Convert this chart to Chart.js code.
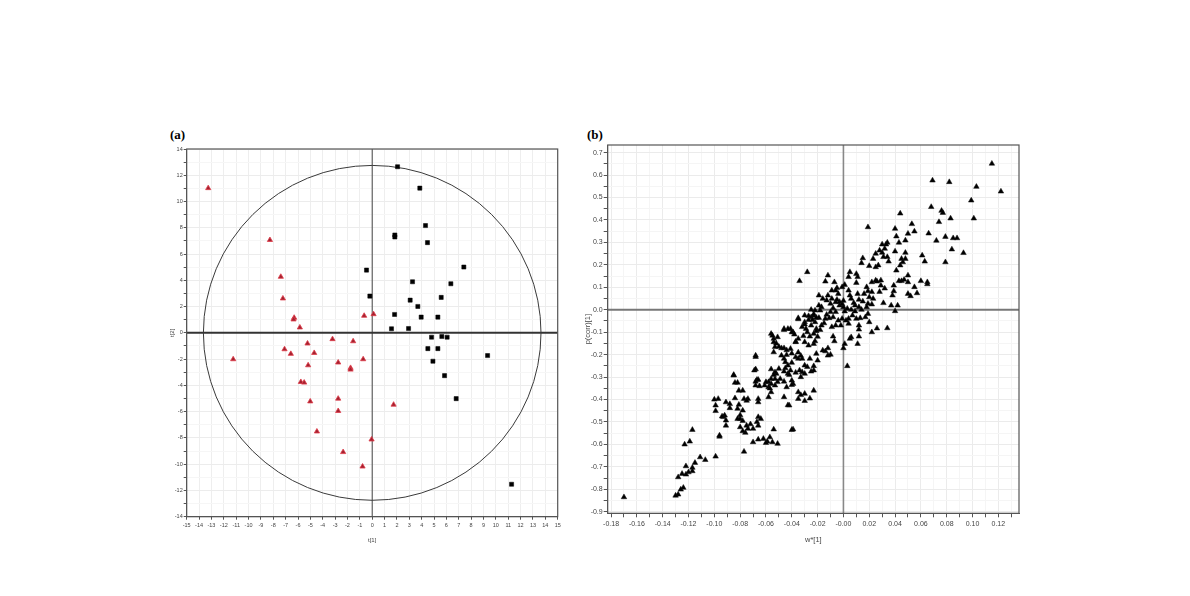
<!DOCTYPE html>
<html><head><meta charset="utf-8">
<script src="https://cdn.jsdelivr.net/npm/chart.js@4.4.0/dist/chart.umd.min.js"></script>
<style>
body{margin:0;background:#fff;width:1190px;height:596px;position:relative;overflow:hidden;}
.box{position:absolute;}
.lab{position:absolute;font-family:"Liberation Serif","Times New Roman",serif;font-weight:bold;font-size:13px;color:#000;line-height:13px;}
</style></head><body>
<div class="lab" style="left:170px;top:128px">(a)</div>
<div class="lab" style="left:587px;top:128px">(b)</div>
<div class="box" style="left:160px;top:125px;"><canvas id="ca" width="410" height="425"></canvas></div>
<div class="box" style="left:580px;top:125px;"><canvas id="cb" width="450" height="430"></canvas></div>
<script>
// ---------- (a) score plot ----------
const redT1 = [-13.26,-8.27,-7.39,-7.22,-6.31,-6.36,-5.85,-0.65,0.11,-3.21,-1.54,-5.23,-7.09,-6.58,-4.69,-11.24,-0.73,-2.75,-5.18,-1.75,-1.75,-5.77,-5.50,-5.01,-2.75,-2.75,1.73,-4.47,-0.05,-2.35,-0.78];
const redT2 = [11.02,7.07,4.27,2.62,1.15,1.02,0.41,1.30,1.42,-0.48,-0.64,-0.81,-1.25,-1.60,-1.53,-2.01,-2.01,-2.26,-2.47,-2.67,-2.80,-3.74,-3.79,-5.22,-5.01,-5.95,-5.47,-7.51,-8.12,-9.08,-10.18];
const blackT1 = [2.05,3.85,4.31,1.83,1.83,4.47,-0.46,7.41,3.26,6.36,-0.19,3.07,5.58,3.69,1.81,3.96,5.31,1.56,2.94,4.80,5.63,6.06,4.50,5.31,4.91,9.33,5.85,6.79,11.27];
const blackT2 = [12.65,11.02,8.17,7.30,7.45,6.87,4.78,5.01,3.89,3.74,2.80,2.49,2.70,2.01,1.40,1.20,1.20,0.31,0.33,-0.33,-0.28,-0.33,-1.20,-1.20,-2.16,-1.73,-3.26,-5.01,-11.53];
const xTicksA = [-15,-14,-13,-12,-11,-10,-9,-8,-7,-6,-5,-4,-3,-2,-1,0,1,2,3,4,5,6,7,8,9,10,11,12,13,14,15];
const yTicksA = [-14,-13,-12,-11,-10,-9,-8,-7,-6,-5,-4,-3,-2,-1,0,1,2,3,4,5,6,7,8,9,10,11,12,13,14];
const yLabelsA = [-14,-12,-10,-8,-6,-4,-2,0,2,4,6,8,10,12,14];
const ellipseT1 = 13.65, ellipseT2 = 12.75;

// ---------- (b) loading plot ----------
const loadW = [0.115,0.069,0.082,0.103,0.099,0.122,0.101,0.068,0.076,0.077,0.074,0.083,0.044,0.019,0.040,0.053,0.055,0.050,0.048,0.043,
0.041,0.066,0.072,0.079,0.085,0.088,0.084,0.093,0.079,0.061,0.063,0.048,0.048,0.045,0.040,0.034,0.032,0.030,0.028,0.031,
0.034,0.027,0.025,0.015,0.014,0.041,0.043,0.045,0.047,0.050,0.050,0.060,0.065,0.065,0.055,0.050,0.052,0.057,0.039,0.038,
0.037,0.042,0.040,0.031,0.034,0.026,0.022,0.025,0.026,0.029,0.022,0.018,0.019,0.016,0.022,0.020,0.023,0.022,0.019,0.018,
0.015,0.011,0.010,0.011,0.005,0.004,0.001,-0.001,-0.005,-0.004,0.004,0.005,0.006,0.009,0.012,0.014,0.019,0.020,0.017,0.013,
0.012,0.012,0.010,0.007,0.009,0.006,0.004,0.004,0.002,-0.001,-0.004,-0.002,0.001,0.000,-0.003,-0.006,-0.009,-0.012,-0.013,-0.010,
-0.008,-0.012,-0.014,-0.006,0.012,0.006,0.005,0.011,0.001,0.000,0.003,-0.008,-0.012,-0.012,-0.016,-0.006,-0.009,-0.011,-0.013,-0.014,
-0.017,-0.018,-0.019,-0.022,-0.021,-0.023,-0.023,-0.021,-0.020,-0.023,-0.025,-0.023,-0.025,-0.023,-0.025,-0.027,-0.030,-0.028,-0.026,-0.031,
-0.035,-0.034,-0.028,-0.037,-0.039,-0.041,-0.043,-0.041,-0.044,-0.046,-0.048,-0.045,-0.043,-0.040,-0.037,-0.035,-0.032,-0.032,-0.030,-0.034,
-0.041,-0.043,-0.040,-0.039,-0.044,-0.035,-0.030,-0.035,-0.030,-0.042,-0.046,-0.039,-0.046,-0.050,-0.052,-0.049,-0.051,-0.053,-0.056,-0.056,
-0.058,-0.060,-0.058,-0.056,-0.058,-0.053,-0.053,-0.054,-0.056,-0.054,-0.053,-0.054,-0.051,-0.046,-0.048,-0.046,-0.068,-0.069,-0.067,-0.068,
-0.066,-0.061,-0.066,-0.066,-0.066,-0.064,-0.066,-0.070,-0.066,-0.059,-0.057,-0.054,-0.051,-0.060,-0.077,-0.075,-0.074,-0.076,-0.078,-0.080,
-0.082,-0.080,-0.078,-0.082,-0.081,-0.077,-0.074,-0.081,-0.084,-0.085,-0.084,-0.088,-0.091,-0.092,-0.091,-0.091,-0.093,-0.096,-0.097,-0.099,
-0.099,-0.099,-0.107,-0.111,-0.115,-0.117,-0.117,-0.120,-0.117,-0.119,-0.123,-0.122,-0.122,-0.125,-0.128,-0.124,-0.126,-0.128,-0.130,-0.170,
0.030,0.033,0.025,0.023,0.046,0.044,0.029,0.039,-0.019,-0.016,-0.017,-0.019,-0.022,-0.009,-0.007,-0.006,-0.010,-0.008,-0.025,-0.030,
-0.032,-0.035,-0.030,-0.027,-0.026,-0.030,-0.003,-0.001,-0.005,0.000,-0.023,-0.021,-0.024,-0.035,-0.027,-0.030,-0.029,-0.021,-0.020,-0.022,
-0.046,-0.040,-0.038,-0.055,-0.052,-0.050,-0.037,-0.007,-0.014,-0.010,-0.044,-0.040,-0.035,-0.033,-0.045,-0.042,-0.056,-0.054,-0.057,-0.037,
-0.033,-0.028,-0.023,-0.068,-0.065,-0.046,-0.040,-0.033,-0.026,-0.043,-0.068,-0.068,-0.085,-0.082,-0.078,-0.100,-0.088,-0.075,-0.094,-0.080,
-0.078,-0.072,-0.067,-0.070,-0.096,-0.062,-0.055,-0.040,0.035,0.020,0.010,0.028,0.032,0.012,0.008,0.003,-0.015,-0.018];
const loadP = [0.651,0.576,0.569,0.548,0.487,0.527,0.407,0.458,0.441,0.432,0.391,0.407,0.429,0.368,0.361,0.382,0.349,0.339,0.309,0.299,
0.327,0.340,0.308,0.325,0.319,0.319,0.269,0.253,0.212,0.242,0.215,0.254,0.227,0.227,0.260,0.299,0.272,0.254,0.264,0.235,
0.235,0.198,0.190,0.230,0.208,0.175,0.128,0.128,0.134,0.153,0.123,0.128,0.114,0.123,0.101,0.071,0.061,0.074,0.083,0.064,
0.019,0.019,-0.006,0.030,-0.082,-0.083,-0.100,0.131,0.126,0.108,0.123,0.101,0.083,0.071,0.079,0.056,0.049,0.024,0.027,0.012,
0.037,0.071,0.160,0.146,0.168,0.146,0.111,0.101,0.097,0.071,0.086,0.064,0.049,0.019,0.012,0.000,-0.018,-0.055,-0.033,-0.037,
-0.070,-0.088,-0.040,-0.025,-0.007,0.000,-0.040,-0.062,-0.048,-0.040,-0.048,-0.070,-0.007,0.012,0.019,0.034,0.049,0.064,0.042,0.027,
0.007,0.153,0.126,0.086,-0.119,-0.122,-0.129,-0.152,-0.152,-0.171,-0.251,-0.119,-0.171,-0.204,-0.181,-0.070,-0.077,-0.037,-0.022,-0.040,
-0.070,-0.003,-0.036,-0.055,-0.085,-0.107,-0.152,-0.196,-0.226,-0.251,-0.275,-0.360,-0.033,-0.025,0.000,-0.045,-0.055,-0.100,-0.119,-0.117,
-0.037,0.128,0.168,-0.144,-0.100,-0.085,-0.085,-0.174,-0.201,-0.171,-0.204,-0.233,-0.248,-0.236,-0.211,-0.218,-0.218,-0.278,-0.285,-0.270,
-0.270,-0.285,-0.315,-0.330,-0.345,-0.367,-0.374,-0.397,-0.406,-0.426,-0.389,-0.533,-0.275,-0.263,-0.285,-0.308,-0.322,-0.337,-0.308,-0.330,
-0.322,-0.322,-0.345,-0.367,-0.389,-0.308,-0.278,-0.129,-0.107,-0.144,-0.166,-0.189,-0.122,-0.085,-0.171,-0.218,-0.204,-0.270,-0.312,-0.337,
-0.312,-0.337,-0.397,-0.412,-0.478,-0.486,-0.516,-0.590,-0.578,-0.587,-0.568,-0.533,-0.597,-0.593,-0.632,-0.516,-0.530,-0.548,-0.541,-0.523,
-0.486,-0.486,-0.449,-0.441,-0.423,-0.397,-0.397,-0.360,-0.325,-0.293,-0.394,-0.438,-0.412,-0.471,-0.493,-0.516,-0.478,-0.565,-0.397,-0.426,
-0.451,-0.654,-0.669,-0.657,-0.682,-0.704,-0.719,-0.724,-0.535,-0.587,-0.600,-0.697,-0.734,-0.731,-0.746,-0.793,-0.801,-0.823,-0.828,-0.835,
0.291,0.291,0.250,0.227,0.212,0.198,0.131,0.108,0.064,0.049,0.012,0.019,-0.003,0.086,0.123,-0.010,-0.010,-0.033,-0.070,-0.025,
-0.077,-0.129,-0.144,-0.159,-0.218,-0.248,0.035,0.025,0.045,0.040,-0.020,-0.035,-0.045,-0.042,-0.028,-0.065,-0.085,-0.095,-0.120,-0.140,
-0.090,-0.100,-0.110,-0.115,-0.150,-0.165,-0.142,-0.140,-0.185,-0.200,-0.180,-0.195,-0.190,-0.205,-0.260,-0.290,-0.265,-0.290,-0.350,-0.280,
-0.300,-0.255,-0.270,-0.320,-0.340,-0.320,-0.335,-0.380,-0.395,-0.425,-0.210,-0.265,-0.290,-0.325,-0.360,-0.400,-0.420,-0.405,-0.475,-0.470,
-0.495,-0.510,-0.500,-0.530,-0.560,-0.575,-0.590,-0.535,0.215,0.195,0.120,0.080,0.095,0.045,0.030,0.005,-0.060,-0.090];
const xTicksB = [-0.18,-0.17,-0.16,-0.15,-0.14,-0.13,-0.12,-0.11,-0.10,-0.09,-0.08,-0.07,-0.06,-0.05,-0.04,-0.03,-0.02,-0.01,0.00,0.01,0.02,0.03,0.04,0.05,0.06,0.07,0.08,0.09,0.10,0.11,0.12,0.13];
const xLabelsB = ['-0.18','','-0.16','','-0.14','','-0.12','','-0.10','','-0.08','','-0.06','','-0.04','','-0.02','','-0.00','','0.02','','0.04','','0.06','','0.08','','0.10','','0.12',''];
const yTicksB = [-0.9,-0.85,-0.8,-0.75,-0.7,-0.65,-0.6,-0.55,-0.5,-0.45,-0.4,-0.35,-0.3,-0.25,-0.2,-0.15,-0.1,-0.05,0,0.05,0.1,0.15,0.2,0.25,0.3,0.35,0.4,0.45,0.5,0.55,0.6,0.65,0.7];
const yLabelsB = ['-0.9','','-0.8','','-0.7','','-0.6','','-0.5','','-0.4','','-0.3','','-0.2','','-0.1','','0.0','','0.1','','0.2','','0.3','','0.4','','0.5','','0.6','','0.7'];

const pts = (xs, ys) => xs.map((x, i) => ({x: x, y: ys[i]}));
const FONT = '"Liberation Sans", Arial, sans-serif';

// frame, zero axes and (optional) confidence ellipse, drawn through the chart's own scales
const framePlugin = {
  id: 'frame',
  beforeDatasetsDraw(chart, args, opts) {
    const {ctx, chartArea: a, scales} = chart;
    const x0 = scales.x.getPixelForValue(0), y0 = scales.y.getPixelForValue(0);
    ctx.save();
    // vertical zero line
    ctx.beginPath();
    ctx.moveTo(x0, a.top); ctx.lineTo(x0, a.bottom);
    ctx.strokeStyle = opts.vColor; ctx.lineWidth = opts.vWidth; ctx.stroke();
    // horizontal zero line
    ctx.beginPath();
    ctx.moveTo(a.left, y0); ctx.lineTo(a.right, y0);
    ctx.strokeStyle = opts.hColor; ctx.lineWidth = opts.hWidth; ctx.stroke();
    if (opts.ellipse) {
      const rx = scales.x.getPixelForValue(opts.ellipse[0]) - x0;
      const ry = y0 - scales.y.getPixelForValue(opts.ellipse[1]);
      ctx.beginPath();
      ctx.ellipse(x0, y0, rx, ry, 0, 0, Math.PI * 2);
      ctx.strokeStyle = '#3a3a3a';
      ctx.lineWidth = 1;
      ctx.stroke();
    }
    ctx.strokeStyle = '#555';
    ctx.lineWidth = 1.2;
    ctx.strokeRect(a.left, a.top, a.right - a.left, a.bottom - a.top);
    ctx.restore();
  }
};

function fixSize(w, h) {
  return function (s) { if (w !== null) s.width = w; if (h !== null) s.height = h; };
}

// chart (a)
new Chart(document.getElementById('ca'), {
  type: 'scatter',
  data: {
    datasets: [
      {data: pts(blackT1, blackT2), pointStyle: 'rect', radius: 2.9, backgroundColor: '#000', borderColor: '#000', borderWidth: 0.5},
      {data: pts(redT1, redT2), pointStyle: 'triangle', radius: 3, backgroundColor: '#a3212f', borderColor: '#e03c4a', borderWidth: 0.8}
    ]
  },
  options: {
    responsive: false, animation: false, events: [],
    layout: {padding: {left: 0, right: 12.3, top: 24, bottom: 5.3}},
    plugins: {legend: {display: false}, tooltip: {enabled: false},
      frame: {ellipse: [ellipseT1, ellipseT2], vColor: '#444', vWidth: 1, hColor: '#333', hWidth: 2}},
    scales: {
      x: {
        type: 'linear', min: -15, max: 15,
        afterBuildTicks: s => { s.ticks = xTicksA.map(v => ({value: v})); },
        afterFit: fixSize(null, 28),
        ticks: {autoSkip: false, maxRotation: 0, padding: 2, color: '#444', font: {family: FONT, size: 5.5}, callback: (v, i) => String(xTicksA[i])},
        grid: {color: '#eeeeee', tickLength: 3, tickColor: '#555'},
        border: {color: '#555'},
        title: {display: true, text: 't[1]', color: '#444', font: {family: FONT, size: 6}, padding: {top: 0, bottom: 1}}
      },
      y: {
        type: 'linear', min: -14, max: 14,
        afterBuildTicks: s => { s.ticks = yTicksA.map(v => ({value: v})); },
        afterFit: fixSize(26.7, null),
        ticks: {autoSkip: false, padding: 1, color: '#444', font: {family: FONT, size: 5.5}, callback: (v, i) => yLabelsA.includes(yTicksA[i]) ? String(yTicksA[i]) : ''},
        grid: {color: c => (c.tick && c.tick.value % 2 === 0 ? '#ececec' : '#f6f6f6'), tickLength: 3, tickColor: '#555'},
        border: {color: '#555'},
        title: {display: true, text: 't[2]', color: '#444', font: {family: FONT, size: 6}, padding: {top: 9, bottom: 0}}
      }
    }
  },
  plugins: [framePlugin]
});

// chart (b)
new Chart(document.getElementById('cb'), {
  type: 'scatter',
  data: {
    datasets: [
      {data: pts(loadW, loadP), pointStyle: 'triangle', radius: 3.2, backgroundColor: '#000', borderColor: '#111', borderWidth: 0.5}
    ]
  },
  options: {
    responsive: false, animation: false, events: [],
    layout: {padding: {left: 0, right: 11, top: 20, bottom: 10.7}},
    plugins: {legend: {display: false}, tooltip: {enabled: false},
      frame: {vColor: '#888', vWidth: 1.6, hColor: '#777', hWidth: 1.8}},
    scales: {
      x: {
        type: 'linear', min: -0.1826, max: 0.136,
        afterBuildTicks: s => { s.ticks = xTicksB.map(v => ({value: v})); },
        afterFit: fixSize(null, 31),
        ticks: {autoSkip: false, maxRotation: 0, padding: 3, color: '#444', font: {family: FONT, size: 7}, callback: (v, i) => xLabelsB[i]},
        grid: {color: c => (c.index % 2 === 0 ? '#ebebeb' : '#f5f5f5'), tickLength: 4, tickColor: '#555'},
        border: {color: '#555'},
        title: {display: true, text: 'w*[1]', color: '#444', font: {family: FONT, size: 7.5}, padding: {top: 0, bottom: 0}}
      },
      y: {
        type: 'linear', min: -0.907, max: 0.734,
        afterBuildTicks: s => { s.ticks = yTicksB.map(v => ({value: v})); },
        afterFit: fixSize(27.7, null),
        ticks: {autoSkip: false, padding: 1, color: '#444', font: {family: FONT, size: 7}, callback: (v, i) => yLabelsB[i]},
        grid: {color: c => (c.index % 2 === 0 ? '#ebebeb' : '#f5f5f5'), tickLength: 4, tickColor: '#555'},
        border: {color: '#555'},
        title: {display: true, text: 'p(corr)[1]', color: '#444', font: {family: FONT, size: 7.5}, padding: {top: 3.5, bottom: 0}}
      }
    }
  },
  plugins: [framePlugin]
});
</script>
</body></html>
